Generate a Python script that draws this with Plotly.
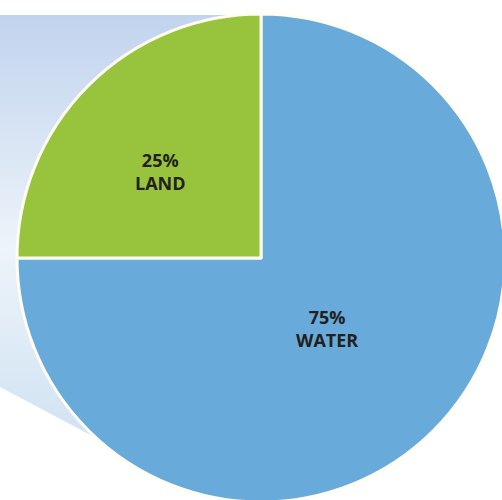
import plotly.graph_objects as go

labels = ["WATER", "LAND"]
values = [75, 25]
colors = ["#68aad9", "#97c43c"]

# figure slightly larger than the window so the pie runs off the right/bottom edge
W, H = 510, 506

# soft shadow outline behind the pie (decoration only)
shadow_x = [0, 262, 262, 100, 0, 0]
shadow_y = [15, 15, 440, 440, 387, 15]

# label anchors (px)
label_pos = {"WATER": (327, 328), "LAND": (160, 171)}

fig = go.Figure()

fig.add_trace(go.Scatter(
    x=shadow_x, y=shadow_y, mode="lines", fill="toself",
    line=dict(width=0),
    fillgradient=dict(
        type="vertical",
        colorscale=[[0, "#d0e2f2"], [0.45, "#edf4fa"], [1, "#c1d3ee"]],
    ),
    hoverinfo="skip", showlegend=False,
))

# pie circle: centre (261, 258), radius 244
cx, cy, r = 261, 258, 244
fig.add_trace(go.Pie(
    labels=labels, values=values, sort=False, direction="clockwise",
    rotation=0,
    marker=dict(colors=colors, line=dict(color="#fffdf0", width=3)),
    textinfo="none",
    domain=dict(x=[(cx - r) / W, (cx + r) / W],
                y=[1 - (cy + r) / H, 1 - (cy - r) / H]),
    showlegend=False, hoverinfo="label+percent",
))

for lab, val in zip(labels, values):
    px, py = label_pos[lab]
    fig.add_annotation(
        x=px, y=py, xref="x", yref="y", showarrow=False,
        text=f"{val}%<br>{lab}",
        font=dict(family="Open Sans", size=18, color="#231f20", weight="bold"),
    )

fig.update_layout(
    width=W, height=H,
    margin=dict(l=0, r=0, t=0, b=0),
    paper_bgcolor="white", plot_bgcolor="white",
    xaxis=dict(range=[0, W], visible=False, fixedrange=True),
    yaxis=dict(range=[H, 0], visible=False, fixedrange=True),
)

fig.write_html(
    "out.html",
    config={"displayModeBar": False},
    post_script=(
        "document.body.style.margin='0';"
        "document.body.style.overflow='hidden';"
        "document.documentElement.style.overflow='hidden';"
    ),
)
